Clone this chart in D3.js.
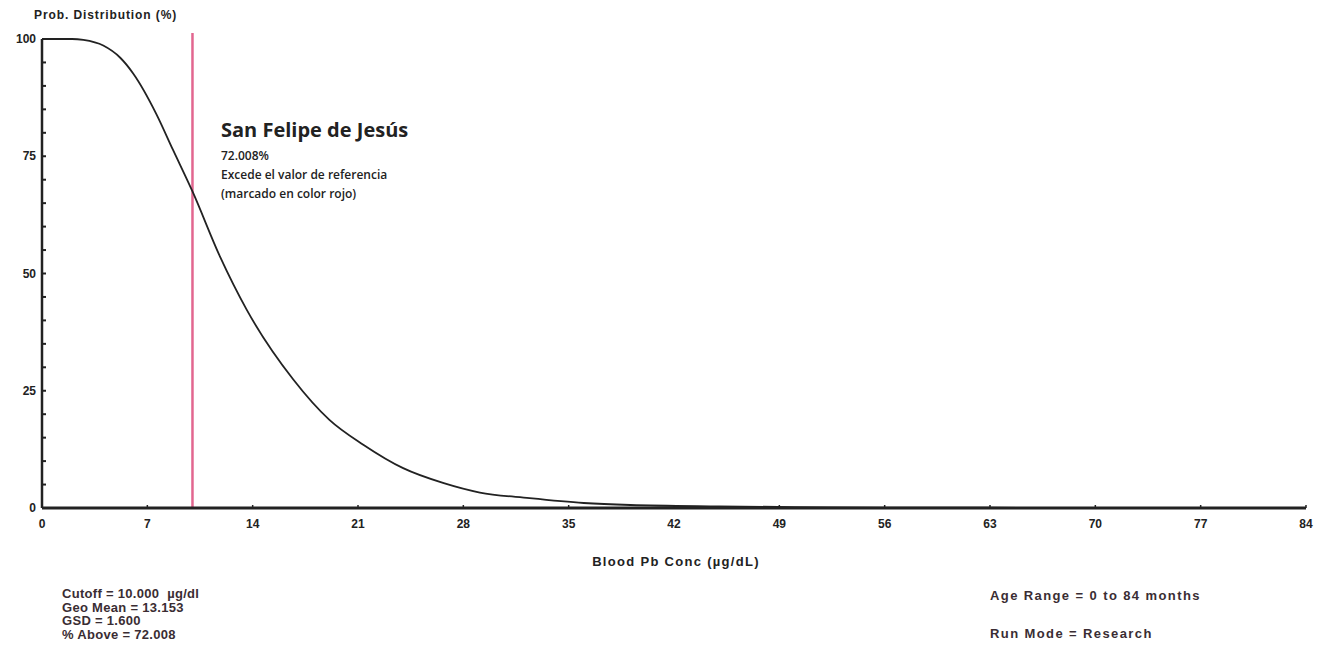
<!DOCTYPE html>
<html>
<head>
<meta charset="utf-8">
<script src="https://cdn.jsdelivr.net/npm/d3@7"></script>
<style>
  html, body { margin: 0; padding: 0; background: #fff; }
  svg { display: block; }
  .tick-label { font-family: "Liberation Sans", Arial, sans-serif; font-weight: bold; font-size: 12px; fill: #222; }
  .note { font-family: "Liberation Sans", Arial, sans-serif; font-weight: bold; font-size: 13px; fill: #3a2d33; white-space: pre; }
  .annot { font-family: "Open Sans", "Noto Sans", sans-serif; fill: #222; }
</style>
</head>
<body>
<svg id="chart" width="1326" height="661"></svg>
<script>
// Blood lead concentration (µg/dL) and percent of the population above it
const conc = [0, 1, 2, 2.75, 4.07, 5.2, 6.07, 7.6, 8.7, 10.0, 11.83, 13.6, 16.7, 19.1, 21.35, 24.0, 26.7, 29.1, 32.4, 36.0, 39.1, 45, 50, 56, 63, 70, 77, 84];
const pctAbove = [100, 100, 100, 99.8, 98.6, 96.0, 92.6, 84.0, 76.4, 67.5, 53.6, 42.3, 27.4, 18.8, 13.5, 8.5, 5.3, 3.3, 2.1, 1.07, 0.64, 0.35, 0.2, 0.1, 0.05, 0.02, 0.01, 0];

const xTicks = [0, 7, 14, 21, 28, 35, 42, 49, 56, 63, 70, 77, 84];
const yTicks = [0, 25, 50, 75, 100];
const yMinorTicks = [5, 10, 15, 20, 30, 35, 40, 45, 55, 60, 65, 70, 80, 85, 90, 95];
const cutoff = [10];

const siteName = "San Felipe de Jesús";
const siteLines = ["72.008%", "Excede el valor de referencia", "(marcado en color rojo)"];
const statsLeft = ["Cutoff = 10.000  µg/dl", "Geo Mean = 13.153", "GSD = 1.600", "% Above = 72.008"];
const statsRight = ["Age Range = 0 to 84 months", "Run Mode = Research"];

const svg = d3.select("#chart");
const plotLeft = 42, plotRight = 1306, plotTop = 39, plotBottom = 508;

const x = d3.scaleLinear().domain([0, 84]).range([plotLeft, plotRight]);
const y = d3.scaleLinear().domain([0, 100]).range([plotBottom, plotTop]);

// Y axis title
svg.append("text").attr("class", "tick-label")
  .attr("x", 34).attr("y", 19)
  .style("letter-spacing", "0.9px")
  .text("Prob. Distribution (%)");

// Y axis
const yAxis = svg.append("g").attr("transform", `translate(${plotLeft},0)`);
yAxis.append("line").attr("x1", 0).attr("x2", 0).attr("y1", plotTop).attr("y2", plotBottom)
  .attr("stroke", "#222").attr("stroke-width", 2.5);
yAxis.selectAll(".minor").data(yMinorTicks.concat(yTicks)).join("line")
  .attr("x1", 0).attr("x2", 4).attr("y1", d => y(d)).attr("y2", d => y(d))
  .attr("stroke", "#222").attr("stroke-width", 2);
yAxis.selectAll("text").data(yTicks).join("text")
  .attr("class", "tick-label")
  .attr("x", -6).attr("y", d => y(d) + 4)
  .attr("text-anchor", "end")
  .text(d => d);

// Cutoff line
svg.selectAll(".cutoff").data(cutoff).join("line")
  .attr("class", "cutoff")
  .attr("x1", d => x(d)).attr("x2", d => x(d))
  .attr("y1", 33).attr("y2", plotBottom)
  .attr("stroke", "#e2668f").attr("stroke-width", 2.5);

// Exceedance curve
const line = d3.line()
  .x((d, i) => x(conc[i]))
  .y(d => y(d))
  .curve(d3.curveMonotoneX);
svg.append("path").datum(pctAbove)
  .attr("d", line)
  .attr("fill", "none")
  .attr("stroke", "#222")
  .attr("stroke-width", 1.8);

// X axis
const xAxis = svg.append("g").attr("transform", `translate(0,${plotBottom})`);
xAxis.append("line").attr("x1", plotLeft).attr("x2", plotRight).attr("y1", 0).attr("y2", 0)
  .attr("stroke", "#222").attr("stroke-width", 3);
xAxis.selectAll(".xt").data(xTicks).join("line")
  .attr("x1", d => x(d)).attr("x2", d => x(d)).attr("y1", 0).attr("y2", -3)
  .attr("stroke", "#222").attr("stroke-width", 1.5);
xAxis.selectAll("text").data(xTicks).join("text")
  .attr("class", "tick-label")
  .attr("x", d => x(d)).attr("y", 20)
  .attr("text-anchor", "middle")
  .text(d => d);

svg.append("text").attr("class", "tick-label")
  .attr("x", 676).attr("y", 566)
  .attr("text-anchor", "middle")
  .style("font-size", "13px").style("letter-spacing", "1.3px")
  .text("Blood Pb Conc (µg/dL)");

// Site annotation
const ann = svg.append("g").attr("class", "annot");
ann.append("text").attr("x", 221).attr("y", 137)
  .style("font-size", "20px").style("font-weight", "bold")
  .text(siteName);
ann.selectAll(".line").data(siteLines).join("text")
  .attr("x", 221).attr("y", (d, i) => 160 + i * 19)
  .style("font-size", "12px").style("font-weight", 600)
  .text(d => d);

// Model statistics
svg.selectAll(".statL").data(statsLeft).join("text")
  .attr("class", "note statL")
  .attr("x", 62).attr("y", (d, i) => 598 + i * 13.7)
  .style("letter-spacing", "0.3px")
  .text(d => d);
svg.selectAll(".statR").data(statsRight).join("text")
  .attr("class", "note statR")
  .attr("x", 990).attr("y", (d, i) => 600 + i * 38)
  .style("letter-spacing", "1.4px")
  .text(d => d);
</script>
</body>
</html>
